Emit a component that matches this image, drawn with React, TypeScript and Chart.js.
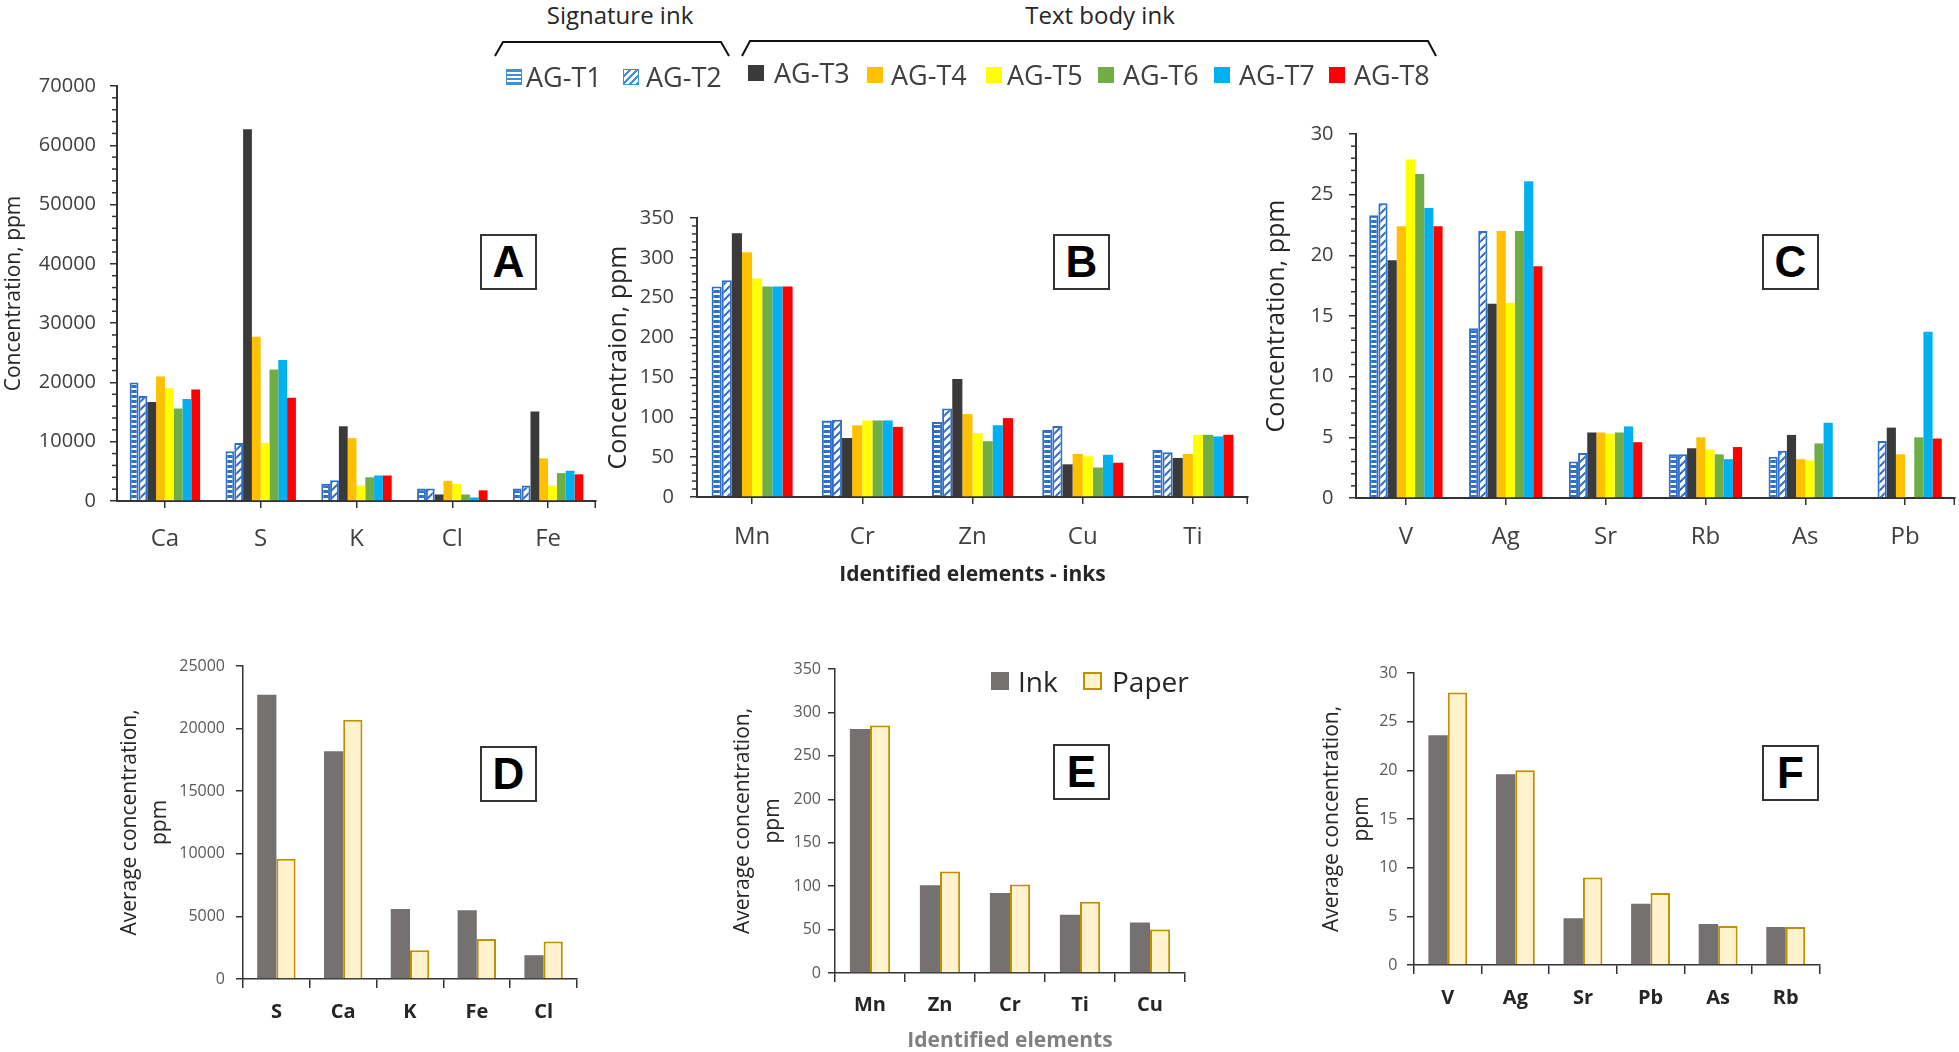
import React, { useEffect, useRef } from 'react';
import { Chart, registerables } from 'chart.js';

Chart.register(...registerables);

const FONT = "'Open Sans', 'Noto Sans', sans-serif";

// ---------- Legend / series ----------
const seriesNames = ['AG-T1', 'AG-T2', 'AG-T3', 'AG-T4', 'AG-T5', 'AG-T6', 'AG-T7', 'AG-T8'];
const seriesColors = ['#2F6FC6', '#2F6FC6', '#3A3A3A', '#FFC000', '#FFFF00', '#70AD47', '#00B0F0', '#FF0000'];

// ---------- Panel A ----------
const catsA = ['Ca', 'S', 'K', 'Cl', 'Fe'];
const aT1 = [20000, 8400, 2900, 2100, 2100];
const aT2 = [17700, 9800, 3500, 2100, 2600];
const aT3 = [16700, 62700, 12600, 1100, 15100];
const aT4 = [21000, 27700, 10600, 3400, 7200];
const aT5 = [19000, 9800, 2600, 2900, 2600];
const aT6 = [15600, 22200, 4000, 1100, 4700];
const aT7 = [17200, 23800, 4300, 600, 5100];
const aT8 = [18800, 17400, 4300, 1800, 4500];

// ---------- Panel B ----------
const catsB = ['Mn', 'Cr', 'Zn', 'Cu', 'Ti'];
const bT1 = [264, 96, 94, 84, 59];
const bT2 = [272, 97, 111, 89, 56];
const bT3 = [331, 74, 148, 41, 49];
const bT4 = [307, 90, 104, 54, 54];
const bT5 = [274, 96, 80, 51, 78];
const bT6 = [264, 96, 70, 37, 78];
const bT7 = [264, 96, 90, 53, 76];
const bT8 = [264, 88, 99, 43, 78];

// ---------- Panel C ----------
const catsC = ['V', 'Ag', 'Sr', 'Rb', 'As', 'Pb'];
const cT1 = [23.3, 14.0, 3.0, 3.6, 3.4, null];
const cT2 = [24.3, 22.0, 3.7, 3.6, 3.9, 4.7];
const cT3 = [19.6, 16.0, 5.4, 4.1, 5.2, 5.8];
const cT4 = [22.4, 22.0, 5.4, 5.0, 3.2, 3.6];
const cT5 = [27.9, 16.1, 5.3, 4.0, 3.1, null];
const cT6 = [26.7, 22.0, 5.4, 3.6, 4.5, 5.0];
const cT7 = [23.9, 26.1, 5.9, 3.2, 6.2, 13.7];
const cT8 = [22.4, 19.1, 4.6, 4.2, null, 4.9];

// ---------- Panels D, E, F ----------
const catsD = ['S', 'Ca', 'K', 'Fe', 'Cl'];
const dInk = [22700, 18200, 5600, 5500, 1900];
const dPaper = [9600, 20700, 2300, 3200, 3000];

const catsE = ['Mn', 'Zn', 'Cr', 'Ti', 'Cu'];
const eInk = [281, 101, 92, 67, 58];
const ePaper = [285, 117, 102, 82, 50];

const catsF = ['V', 'Ag', 'Sr', 'Pb', 'As', 'Rb'];
const fInk = [23.6, 19.6, 4.8, 6.3, 4.2, 3.9];
const fPaper = [28.0, 20.0, 9.0, 7.4, 4.0, 3.9];

const INK = '#767171';
const PAPER_FILL = '#FFF2CC';
const PAPER_BORDER = '#BF9000';

function makePattern(kind: 'h' | 'd', color: string): CanvasPattern | string {
  const c = document.createElement('canvas');
  const s = kind === 'h' ? 5 : 8;
  c.width = s;
  c.height = s;
  const g = c.getContext('2d');
  if (!g) return color;
  g.fillStyle = '#ffffff';
  g.fillRect(0, 0, s, s);
  if (kind === 'h') {
    g.fillStyle = color;
    g.fillRect(0, 0, s, 3);
  } else {
    g.strokeStyle = color;
    g.lineWidth = 2;
    g.beginPath();
    g.moveTo(0, s); g.lineTo(s, 0);
    g.moveTo(-2, 2); g.lineTo(2, -2);
    g.moveTo(s - 2, s + 2); g.lineTo(s + 2, s - 2);
    g.stroke();
  }
  return g.createPattern(c, 'repeat') || color;
}

function inkDatasets(values: (number | null)[][]) {
  const pH = makePattern('h', seriesColors[0]);
  const pD = makePattern('d', seriesColors[1]);
  return values.map((data, i) => {
    if (i === 0 || i === 1) {
      return {
        label: seriesNames[i], data,
        backgroundColor: i === 0 ? pH : pD,
        borderColor: seriesColors[i], borderWidth: 2,
      };
    }
    return { label: seriesNames[i], data, backgroundColor: seriesColors[i], borderWidth: 0 };
  });
}

function avgDatasets(ink: number[], paper: number[]) {
  return [
    { label: 'Ink', data: ink, backgroundColor: INK, borderWidth: 0 },
    { label: 'Paper', data: paper, backgroundColor: PAPER_FILL, borderColor: PAPER_BORDER, borderWidth: 2 },
  ];
}

const minorTicksPlugin = {
  id: 'minorTicks',
  afterDraw(chart: any, _args: any, opts: any) {
    if (!opts || !opts.step) return;
    const y = chart.scales.y;
    const x = chart.scales.x;
    const ctx = chart.ctx;
    ctx.save();
    ctx.strokeStyle = opts.color || '#333';
    ctx.lineWidth = 1.5;
    for (let v = y.min; v <= y.max + 1e-9; v += opts.step) {
      const r = v / opts.major;
      if (Math.abs(r - Math.round(r)) < 1e-6) continue;
      const py = y.getPixelForValue(v);
      ctx.beginPath();
      ctx.moveTo(y.right - opts.len, py);
      ctx.lineTo(y.right, py);
      ctx.stroke();
    }
    // closing tick at the right end of the category axis
    ctx.beginPath();
    ctx.moveTo(x.right - 0.75, x.top);
    ctx.lineTo(x.right - 0.75, x.top + 7);
    ctx.stroke();
    ctx.restore();
  },
};

type Spec = {
  box: { l: number; t: number; w: number; h: number };
  area: { x0: number; y0: number; x1: number; y1: number };
  labels: string[];
  kind: 'ink8' | 'avg';
  values: any;
  yMax: number; yStep: number; minor?: number;
  yTickSize: number; yTickPad: number; yTickColor: string;
  xTickSize: number; xTickBold: boolean; xTickPad: number; xTickLen: number; xTickColor: string;
  gridOffset: boolean; catPct: number;
  yTitle: string | string[]; yTitleSize: number; yTitleLH: number; yTitlePad: number;
  xTitle?: string; xTitleSize?: number; xTitleColor?: string; xTitleLH?: number; xTitlePad?: number;
  axisColor: string; axisWidth: number;
};

function buildConfig(s: Spec): any {
  const datasets = s.kind === 'ink8' ? inkDatasets(s.values) : avgDatasets(s.values[0], s.values[1]);
  return {
    type: 'bar',
    data: { labels: s.labels, datasets },
    plugins: [minorTicksPlugin],
    options: {
      responsive: false,
      animation: false,
      devicePixelRatio: 1,
      datasets: { bar: { categoryPercentage: s.catPct, barPercentage: 1.0 } },
      layout: {
        padding: { left: 0, top: s.area.y0 - s.box.t, right: s.box.l + s.box.w - s.area.x1, bottom: 0 },
      },
      plugins: {
        legend: { display: false },
        tooltip: { enabled: false },
        minorTicks: s.minor ? { step: s.minor, major: s.yStep, len: 5, color: s.axisColor } : {},
      },
      scales: {
        x: {
          type: 'category',
          offset: true,
          grid: {
            display: true, drawOnChartArea: false, drawTicks: true,
            tickLength: s.xTickLen, offset: s.gridOffset, color: s.axisColor, lineWidth: 1.5,
          },
          border: { display: true, color: s.axisColor, width: s.axisWidth },
          ticks: {
            autoSkip: false, maxRotation: 0, padding: s.xTickPad, color: s.xTickColor,
            font: { family: FONT, size: s.xTickSize, weight: s.xTickBold ? 'bold' : 'normal', lineHeight: 1.2 },
          },
          title: s.xTitle
            ? {
                display: true, text: s.xTitle, color: s.xTitleColor,
                font: { family: FONT, size: s.xTitleSize, weight: 'bold', lineHeight: s.xTitleLH },
                padding: { top: 0, bottom: s.xTitlePad },
              }
            : { display: false },
          afterFit: (sc: any) => {
            sc.height = s.box.t + s.box.h - s.area.y1;
            sc.paddingLeft = 0; sc.paddingRight = 0; sc.paddingTop = 0; sc.paddingBottom = 0;
          },
        },
        y: {
          min: 0, max: s.yMax,
          grid: {
            display: true, drawOnChartArea: false, drawTicks: true,
            tickLength: 7, color: s.axisColor, lineWidth: 1.5,
          },
          border: { display: true, color: s.axisColor, width: s.axisWidth },
          ticks: {
            stepSize: s.yStep, padding: s.yTickPad, color: s.yTickColor,
            font: { family: FONT, size: s.yTickSize },
            callback: (v: any) => String(v),
          },
          title: {
            display: true, text: s.yTitle, color: '#262626',
            font: { family: FONT, size: s.yTitleSize, lineHeight: s.yTitleLH },
            padding: { top: s.yTitlePad, bottom: 0 },
          },
          afterFit: (sc: any) => {
            sc.width = s.area.x0 - s.box.l;
            sc.paddingLeft = 0; sc.paddingRight = 0; sc.paddingTop = 0; sc.paddingBottom = 0;
          },
        },
      },
    },
  };
}

const TOPCOMMON = {
  kind: 'ink8' as const,
  yTickSize: 20, yTickColor: '#404040',
  xTickSize: 24, xTickBold: false, xTickLen: 7, xTickColor: '#404040',
  gridOffset: false, catPct: 0.735,
  yTitleLH: 1.2, axisColor: '#333333', axisWidth: 2,
};

const BOTCOMMON = {
  kind: 'avg' as const,
  yTickSize: 16, yTickColor: '#595959',
  xTickSize: 20, xTickBold: true, xTickLen: 9, xTickColor: '#262626',
  gridOffset: true, catPct: 0.575,
  yTitleSize: 21, yTitleLH: 1.45, axisColor: '#333333', axisWidth: 1.5,
};

const avgTitle = ['Average concentration,', 'ppm'];

const specs: Spec[] = [
  {
    ...TOPCOMMON,
    box: { l: 0, t: 70, w: 600, h: 530 }, area: { x0: 117, y0: 86, x1: 596, y1: 501 },
    labels: catsA, values: [aT1, aT2, aT3, aT4, aT5, aT6, aT7, aT8],
    yMax: 70000, yStep: 10000, minor: 2000, yTickPad: 14, xTickPad: 16.6,
    yTitle: 'Concentration, ppm', yTitleSize: 21, yTitlePad: 1,
  },
  {
    ...TOPCOMMON,
    box: { l: 600, t: 200, w: 660, h: 400 }, area: { x0: 697, y0: 218, x1: 1248, y1: 497 },
    labels: catsB, values: [bT1, bT2, bT3, bT4, bT5, bT6, bT7, bT8],
    yMax: 350, yStep: 50, minor: 10, yTickPad: 16, xTickPad: 18.6,
    yTitle: 'Concentraion, ppm', yTitleSize: 25, yTitlePad: 4,
    xTitle: 'Identified elements - inks', xTitleSize: 21, xTitleColor: '#262626', xTitleLH: 1.2, xTitlePad: 12.4,
  },
  {
    ...TOPCOMMON,
    box: { l: 1260, t: 110, w: 699, h: 490 }, area: { x0: 1356, y0: 134, x1: 1955, y1: 498 },
    labels: catsC, values: [cT1, cT2, cT3, cT4, cT5, cT6, cT7, cT8],
    yMax: 30, yStep: 5, minor: 1, yTickPad: 15.5, xTickPad: 17.6,
    yTitle: 'Concentration, ppm', yTitleSize: 25, yTitlePad: 2,
  },
  {
    ...BOTCOMMON,
    box: { l: 100, t: 640, w: 500, h: 412 }, area: { x0: 243, y0: 666, x1: 577, y1: 979 },
    labels: catsD, values: [dInk, dPaper],
    yMax: 25000, yStep: 5000, yTickPad: 11, xTickPad: 12.7,
    yTitle: avgTitle, yTitlePad: 14.8,
  },
  {
    ...BOTCOMMON,
    box: { l: 700, t: 640, w: 560, h: 412 }, area: { x0: 835, y0: 669, x1: 1185, y1: 973 },
    labels: catsE, values: [eInk, ePaper],
    yMax: 350, yStep: 50, yTickPad: 7, xTickPad: 11,
    yTitle: avgTitle, yTitlePad: 27.8,
    xTitle: 'Identified elements', xTitleSize: 21, xTitleColor: '#808080', xTitleLH: 1.0, xTitlePad: 0,
  },
  {
    ...BOTCOMMON,
    box: { l: 1270, t: 640, w: 689, h: 412 }, area: { x0: 1414, y0: 673, x1: 1819.5, y1: 965 },
    labels: catsF, values: [fInk, fPaper],
    yMax: 30, yStep: 5, yTickPad: 9.5, xTickPad: 12,
    yTitle: avgTitle, yTitlePad: 46.3,
  },
];

function ChartPanel({ spec }: { spec: Spec }) {
  const ref = useRef<HTMLCanvasElement>(null);
  useEffect(() => {
    if (!ref.current) return;
    const chart = new Chart(ref.current, buildConfig(spec));
    return () => chart.destroy();
  }, [spec]);
  const { l, t, w, h } = spec.box;
  return (
    <canvas
      ref={ref}
      width={w}
      height={h}
      style={{ position: 'absolute', left: l, top: t, width: w, height: h }}
    />
  );
}

const letterBoxes = [
  { ch: 'A', l: 480, t: 234 },
  { ch: 'B', l: 1053, t: 234 },
  { ch: 'C', l: 1762, t: 234 },
  { ch: 'D', l: 480, t: 746 },
  { ch: 'E', l: 1053, t: 744 },
  { ch: 'F', l: 1762, t: 745 },
];

const legendPos = [
  { sw: 506, tx: 526, cy: 77 },
  { sw: 623, tx: 646, cy: 77 },
  { sw: 748, tx: 774, cy: 73 },
  { sw: 867, tx: 891, cy: 75 },
  { sw: 986, tx: 1007, cy: 75 },
  { sw: 1098, tx: 1123, cy: 75 },
  { sw: 1214, tx: 1239, cy: 75 },
  { sw: 1329, tx: 1354, cy: 75 },
];

function swatchStyle(i: number): React.CSSProperties {
  const c = i < 2 ? '#3F8FD8' : seriesColors[i];
  if (i === 0) {
    return {
      background: `repeating-linear-gradient(180deg, ${c} 0px, ${c} 2px, #fff 2px, #fff 4px)`,
      border: `1.5px solid ${c}`, boxSizing: 'border-box',
    };
  }
  if (i === 1) {
    return {
      background: `repeating-linear-gradient(135deg, #fff 0px, #fff 3px, ${c} 3px, ${c} 5px)`,
      border: `1.5px solid ${c}`, boxSizing: 'border-box',
    };
  }
  return { background: c };
}

const textBase: React.CSSProperties = {
  position: 'absolute', fontFamily: FONT, whiteSpace: 'nowrap', lineHeight: 1, color: '#404040',
};

export default function App() {
  useEffect(() => {
    document.body.style.margin = '0';
    document.body.style.overflow = 'hidden';
  }, []);
  return (
    <div style={{ position: 'absolute', left: 0, top: 0, width: 1959, height: 1052, background: '#fff', overflow: 'hidden' }}>
      {specs.map((s, i) => (
        <ChartPanel key={i} spec={s} />
      ))}

      {/* Group headers */}
      <div style={{ ...textBase, left: 520, width: 200, top: 3, fontSize: 24, textAlign: 'center', color: '#262626' }}>Signature ink</div>
      <div style={{ ...textBase, left: 1000, width: 200, top: 3, fontSize: 24, textAlign: 'center', color: '#262626' }}>Text body ink</div>
      <svg width={1959} height={100} style={{ position: 'absolute', left: 0, top: 0 }}>
        <polyline points="495,56 503,42 721,42 729,56" fill="none" stroke="#111" strokeWidth={2} />
        <polyline points="742,56 750,41 1428,41 1436,56" fill="none" stroke="#111" strokeWidth={2} />
      </svg>

      {/* Series legend */}
      {legendPos.map((p, i) => (
        <React.Fragment key={i}>
          <div style={{ position: 'absolute', left: p.sw, top: p.cy - 8, width: 16, height: 16, ...swatchStyle(i) }} />
          <div style={{ ...textBase, left: p.tx, top: p.cy - 14, fontSize: 27 }}>{seriesNames[i]}</div>
        </React.Fragment>
      ))}

      {/* Ink / Paper legend */}
      <div style={{ position: 'absolute', left: 991, top: 672, width: 18, height: 18, background: INK }} />
      <div style={{ ...textBase, left: 1018, top: 667, fontSize: 28, color: '#262626' }}>Ink</div>
      <div style={{ position: 'absolute', left: 1083, top: 672, width: 19, height: 18, background: PAPER_FILL, border: `2px solid ${PAPER_BORDER}`, boxSizing: 'border-box' }} />
      <div style={{ ...textBase, left: 1112, top: 667, fontSize: 28, color: '#262626' }}>Paper</div>

      {/* Panel letters */}
      {letterBoxes.map((b) => (
        <div
          key={b.ch}
          style={{
            position: 'absolute', left: b.l, top: b.t, width: 57, height: 56,
            border: '2px solid #333', boxSizing: 'border-box', background: '#fff',
            display: 'flex', alignItems: 'center', justifyContent: 'center',
            fontFamily: "'Liberation Sans', Arial, sans-serif", fontWeight: 'bold', fontSize: 44, color: '#000',
          }}
        >
          {b.ch}
        </div>
      ))}
    </div>
  );
}
